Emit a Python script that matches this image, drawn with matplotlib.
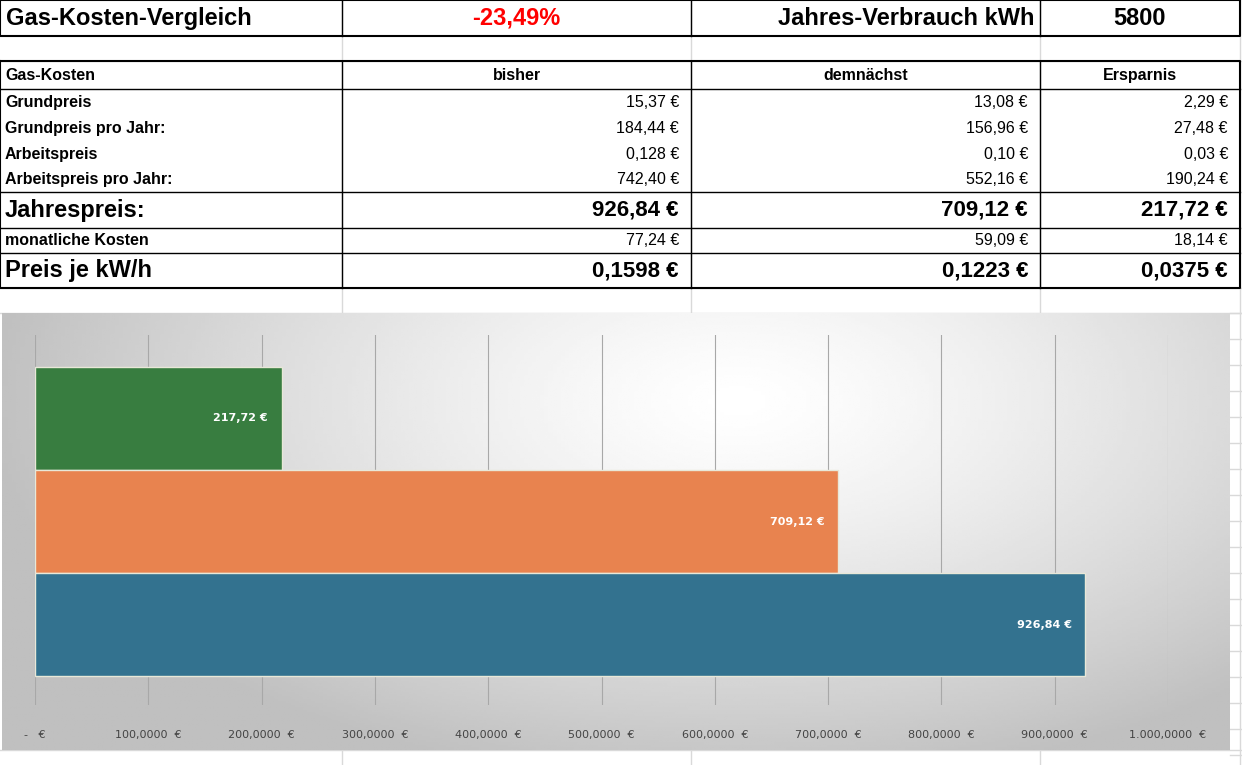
import numpy as np
import matplotlib.pyplot as plt

W, H = 1242, 765
fig = plt.figure(figsize=(W / 100, H / 100), dpi=100)
fig.patch.set_facecolor('white')

# sheet layer in pixel coords
sheet = fig.add_axes([0, 0, 1, 1])
sheet.set_xlim(0, W)
sheet.set_ylim(H, 0)
sheet.axis('off')

cols = [0, 342, 691, 1040, 1240]
# faint spreadsheet grid
for x in cols[1:]:
    sheet.plot([x, x], [0, H], color='#d9d9d9', lw=1, zorder=0)
for y in [61, 288, 313, 750]:
    sheet.plot([0, W], [y, y], color='#d9d9d9', lw=1, zorder=0)
for y in range(313, 765, 26):
    sheet.plot([1230, W], [y, y], color='#d9d9d9', lw=1, zorder=0)

# title row
sheet.plot([0, 1240, 1240, 0, 0], [0, 0, 36, 36, 0], color='black', lw=1.5)
for x in cols[1:4]:
    sheet.plot([x, x], [0, 36], color='black', lw=1)
sheet.text(6, 18, 'Gas-Kosten-Vergleich', fontsize=17, fontweight='bold', va='center', family='Liberation Sans')
sheet.text(516, 18, '-23,49%', fontsize=17, fontweight='bold', va='center', ha='center', color='#ff0000', family='Liberation Sans')
sheet.text(1035, 18, 'Jahres-Verbrauch kWh', fontsize=17, fontweight='bold', va='center', ha='right', family='Liberation Sans')
sheet.text(1140, 18, '5800', fontsize=17, fontweight='bold', va='center', ha='center', family='Liberation Sans')

rows = [
    ('Grundpreis', '15,37 €', '13,08 €', '2,29 €', 89, 115, False),
    ('Grundpreis pro Jahr:', '184,44 €', '156,96 €', '27,48 €', 115, 141, False),
    ('Arbeitspreis', '0,128 €', '0,10 €', '0,03 €', 141, 167, False),
    ('Arbeitspreis pro Jahr:', '742,40 €', '552,16 €', '190,24 €', 167, 192, False),
    ('Jahrespreis:', '926,84 €', '709,12 €', '217,72 €', 192, 228, True),
    ('monatliche Kosten', '77,24 €', '59,09 €', '18,14 €', 228, 253, False),
    ('Preis je kW/h', '0,1598 €', '0,1223 €', '0,0375 €', 253, 288, True),
]

sheet.plot([0, 1240, 1240, 0, 0], [61, 61, 288, 288, 61], color='black', lw=1.5)
for x in cols[1:4]:
    sheet.plot([x, x], [61, 288], color='black', lw=1)
for y in [89, 192, 228, 253]:
    sheet.plot([0, 1240], [y, y], color='black', lw=1)
sheet.text(5, 75, 'Gas-Kosten', fontsize=11.5, fontweight='bold', va='center', family='Liberation Sans')
for i, h in enumerate(['bisher', 'demnächst', 'Ersparnis']):
    sheet.text((cols[i + 1] + cols[i + 2]) / 2, 75, h, fontsize=11.5, fontweight='bold', va='center', ha='center', family='Liberation Sans')

for label, a, b, c, y0, y1, big in rows:
    ym = (y0 + y1) / 2
    fs = 16 if big else 11.5
    lbl_fs = 17 if big else 11.5
    sheet.text(5, ym, label, fontsize=lbl_fs, fontweight='bold', va='center', family='Liberation Sans')
    for i, v in enumerate([a, b, c]):
        sheet.text(cols[i + 2] - 12, ym, v, fontsize=fs, va='center', ha='right',
                   fontweight='bold' if big else 'normal', family='Liberation Sans')

# chart background with gradient
bg = fig.add_axes([2 / W, 1 - 750 / H, 1228 / W, 437 / H])
gx, gy = np.meshgrid(np.linspace(0, 1, 300), np.linspace(0, 1, 200))
d = np.sqrt(((gx - 0.6) * 1.3) ** 2 + ((gy - 0.2) * 0.9) ** 2)
shade = 1 - 0.25 * np.clip(d / 0.8, 0, 1) ** 1.3
bg.imshow(shade, cmap='gray', vmin=0, vmax=1, aspect='auto', extent=[0, 1, 1, 0])
bg.axis('off')

# bar chart
values = {'Ersparnis': 217.72, 'demnächst': 709.12, 'bisher': 926.84}
colors = ['#387d40', '#e8834f', '#33728f']
ax = fig.add_axes([35 / W, 1 - 705 / H, 1133 / W, 370 / H])
ax.patch.set_alpha(0)
ypos = np.arange(len(values))[::-1]
ax.barh(ypos, list(values.values()), height=1.0, color=colors, edgecolor='#e8e8d8', lw=1, zorder=2)
for y, v in zip(ypos, values.values()):
    ax.text(v - 12, y, f'{v:.2f} €'.replace('.', ','), color='white', fontsize=8,
            fontweight='bold', ha='right', va='center', zorder=3)
ax.set_xlim(0, 1000)
ax.set_ylim(-0.78, 2.81)
ax.set_xticks(range(0, 1001, 100))
ax.set_xticklabels(['-   €'] + [f'{t:,}'.replace(',', '.') + ',0000  €' if t >= 1000 else f'{t},0000  €' for t in range(100, 1001, 100)],
                   fontsize=8, color='#444444')
ax.tick_params(axis='x', length=0, pad=18)
ax.set_yticks([])
ax.grid(axis='x', color='#a8a8a8', lw=0.8, zorder=1)
for s in ax.spines.values():
    s.set_visible(False)

fig.savefig('out.png', dpi=100)
